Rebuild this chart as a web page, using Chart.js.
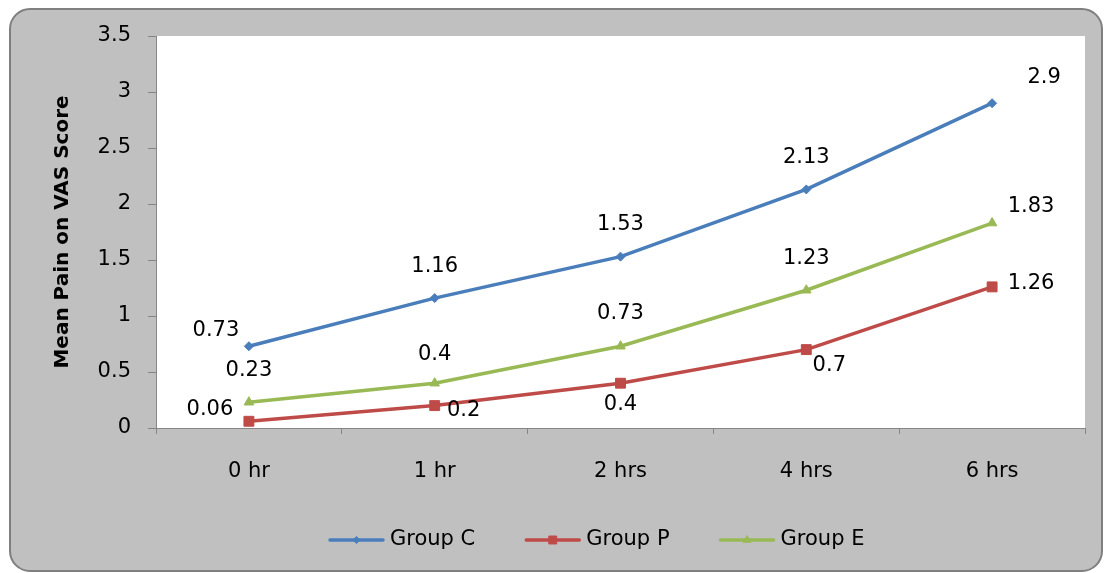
<!DOCTYPE html>
<html>
<head>
<meta charset="utf-8">
<script src="https://cdn.jsdelivr.net/npm/chart.js@4.4.1/dist/chart.umd.min.js"></script>
<style>
  html, body { margin: 0; padding: 0; background: #ffffff; overflow: hidden; }
  #wrap { width: 1105px; height: 573px; position: relative; }
</style>
</head>
<body>
<div id="wrap"><canvas id="painChart" width="1105" height="573"></canvas></div>
<script>
// Time after surgery and mean VAS pain score per group
const timePoints = ['0 hr', '1 hr', '2 hrs', '4 hrs', '6 hrs'];
const groupC = [0.73, 1.16, 1.53, 2.13, 2.9];
const groupP = [0.06, 0.2, 0.4, 0.7, 1.26];
const groupE = [0.23, 0.4, 0.73, 1.23, 1.83];
const yTickValues = [0, 0.5, 1, 1.5, 2, 2.5, 3, 3.5];

const FONT = 'DejaVu Sans';
const AXIS_GREY = '#868686';

// Grey rounded panel behind the chart, white plotting area
const panelPlugin = {
  id: 'panel',
  beforeDraw(chart) {
    const ctx = chart.ctx;
    const a = chart.chartArea;
    ctx.save();
    ctx.fillStyle = '#ffffff';
    ctx.fillRect(0, 0, chart.width, chart.height);
    const x = 10, y = 9, w = 1092, h = 562, r = 20;
    ctx.beginPath();
    ctx.moveTo(x + r, y);
    ctx.lineTo(x + w - r, y);
    ctx.arcTo(x + w, y, x + w, y + r, r);
    ctx.lineTo(x + w, y + h - r);
    ctx.arcTo(x + w, y + h, x + w - r, y + h, r);
    ctx.lineTo(x + r, y + h);
    ctx.arcTo(x, y + h, x, y + h - r, r);
    ctx.lineTo(x, y + r);
    ctx.arcTo(x, y, x + r, y, r);
    ctx.closePath();
    ctx.fillStyle = '#c0c0c0';
    ctx.fill();
    ctx.lineWidth = 2;
    ctx.strokeStyle = '#7f7f7f';
    ctx.stroke();
    ctx.fillStyle = '#ffffff';
    ctx.fillRect(a.left, a.top, a.right - a.left, a.bottom - a.top);
    ctx.restore();
  }
};

// Value labels next to each point
const valueLabelPlugin = {
  id: 'valueLabels',
  afterDatasetsDraw(chart, args, opts) {
    const ctx = chart.ctx;
    ctx.save();
    ctx.font = opts.size + 'px "' + FONT + '"';
    ctx.fillStyle = '#000000';
    ctx.textAlign = 'center';
    ctx.textBaseline = 'middle';
    chart.data.datasets.forEach((ds, di) => {
      const meta = chart.getDatasetMeta(di);
      const shifts = opts.offsets[di];
      meta.data.forEach((pt, i) => {
        const [dx, dy] = shifts[i];
        ctx.fillText(String(ds.data[i]), pt.x + dx, pt.y + dy);
      });
    });
    ctx.restore();
  }
};

// Series key at the bottom: line sample with marker, then the name
const seriesKeyPlugin = {
  id: 'seriesKey',
  afterDraw(chart, args, opts) {
    const ctx = chart.ctx;
    let x = opts.x;
    const y = opts.y;
    ctx.save();
    ctx.font = opts.size + 'px "' + FONT + '"';
    ctx.textAlign = 'left';
    ctx.textBaseline = 'middle';
    chart.data.datasets.forEach(ds => {
      ctx.strokeStyle = ds.borderColor;
      ctx.lineWidth = ds.borderWidth;
      ctx.lineCap = 'round';
      ctx.beginPath();
      ctx.moveTo(x, y);
      ctx.lineTo(x + opts.lineLength, y);
      ctx.stroke();
      ctx.lineCap = 'butt';
      ctx.fillStyle = ds.borderColor;
      ctx.lineWidth = 1;
      Chart.helpers.drawPoint(ctx, {
        pointStyle: ds.pointStyle,
        radius: ds.pointRadius * 0.8,
        borderWidth: 1,
        rotation: 0
      }, x + opts.lineLength / 2, y);
      ctx.fillStyle = '#000000';
      const tx = x + opts.lineLength + opts.textGap;
      ctx.fillText(ds.label, tx, y);
      x = tx + ctx.measureText(ds.label).width + opts.itemGap;
    });
    ctx.restore();
  }
};

const series = [
  { label: 'Group C', data: groupC, color: '#4A7EBB', style: 'rectRot', radius: 4.5 },
  { label: 'Group P', data: groupP, color: '#BE4B48', style: 'rect', radius: 7 },
  { label: 'Group E', data: groupE, color: '#98B954', style: 'triangle', radius: 5.5 }
];

new Chart(document.getElementById('painChart'), {
  type: 'line',
  data: {
    labels: timePoints,
    datasets: series.map(s => ({
      label: s.label,
      data: s.data,
      borderColor: s.color,
      backgroundColor: s.color,
      pointBackgroundColor: s.color,
      pointBorderColor: s.color,
      borderWidth: 3.5,
      pointStyle: s.style,
      pointRadius: s.radius,
      pointBorderWidth: 1,
      tension: 0,
      fill: false
    }))
  },
  options: {
    responsive: false,
    animation: false,
    devicePixelRatio: 1,
    layout: { padding: { left: 10, right: 20, top: 36, bottom: 95 } },
    plugins: {
      legend: { display: false },
      title: { display: false },
      tooltip: { enabled: false },
      valueLabels: {
        size: 21,
        offsets: [
          [[-33, -16], [0, -32], [0, -32], [0, -32], [52, -26]],
          [[-39, -12], [29, 5], [0, 21], [23, 16], [39, -3]],
          [[0, -32], [0, -29], [0, -33], [0, -32], [39, -16]]
        ]
      },
      seriesKey: { x: 330, y: 540, size: 21, lineLength: 53, textGap: 7, itemGap: 51 }
    },
    scales: {
      x: {
        type: 'category',
        offset: true,
        afterFit(scale) { scale.height = 50; },
        grid: {
          display: true,
          drawOnChartArea: false,
          drawTicks: true,
          tickLength: 6,
          color: AXIS_GREY,
          offset: true
        },
        border: { display: true, color: AXIS_GREY, width: 1 },
        ticks: {
          color: '#000000',
          font: { family: FONT, size: 21 },
          padding: 25,
          maxRotation: 0
        }
      },
      y: {
        min: 0,
        max: 3.5,
        afterFit(scale) { scale.width = 146; },
        afterBuildTicks(scale) { scale.ticks = yTickValues.map(v => ({ value: v })); },
        grid: {
          display: true,
          drawOnChartArea: false,
          drawTicks: true,
          tickLength: 8,
          color: AXIS_GREY
        },
        border: { display: true, color: AXIS_GREY, width: 1 },
        ticks: {
          color: '#000000',
          font: { family: FONT, size: 21 },
          padding: 17,
          callback: v => String(v)
        },
        title: {
          display: true,
          text: 'Mean Pain on VAS Score',
          color: '#000000',
          font: { family: FONT, size: 20, weight: 'bold' },
          padding: { top: 41, bottom: 0 }
        }
      }
    }
  },
  plugins: [panelPlugin, valueLabelPlugin, seriesKeyPlugin]
});
</script>
</body>
</html>
